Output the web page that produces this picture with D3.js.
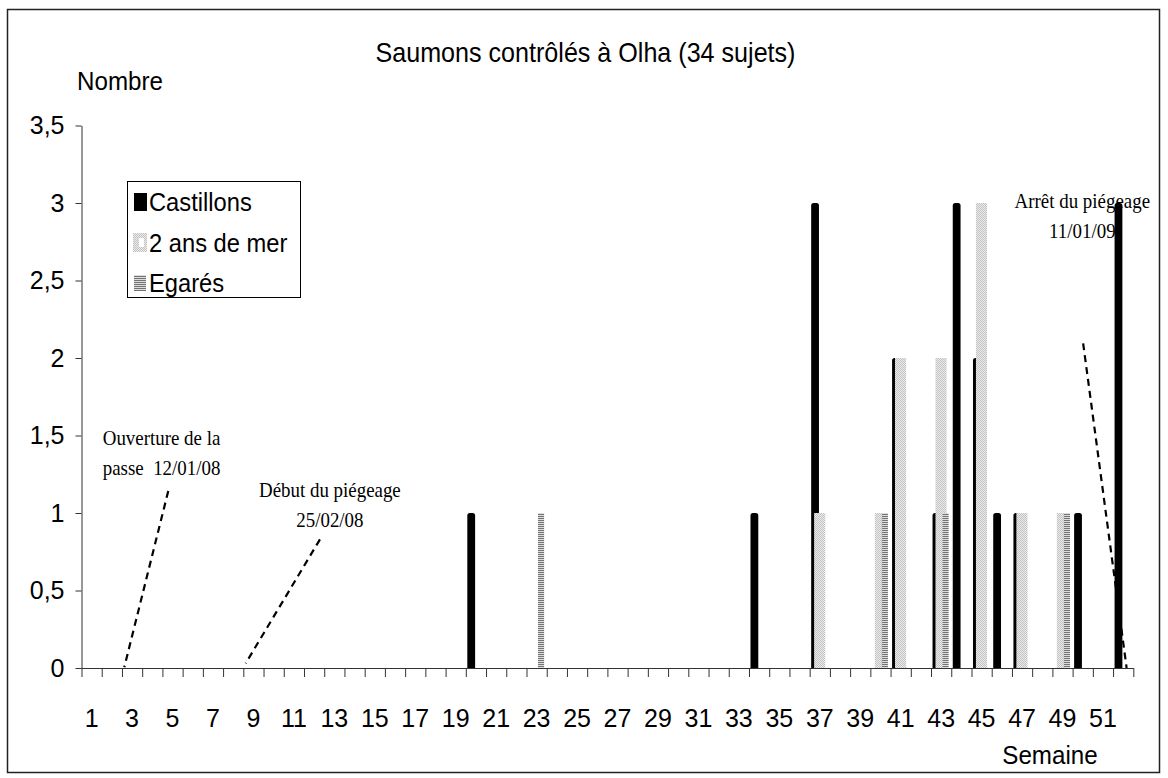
<!DOCTYPE html>
<html><head><meta charset="utf-8">
<script src="https://cdn.jsdelivr.net/npm/d3@7"></script>
<style>body{margin:0;background:#fff}svg{display:block}</style>
</head><body>
<svg id="chart" width="1168" height="778"></svg>
<script>
// ---------- data ----------
const weeks = [1,2,3,4,5,6,7,8,9,10,11,12,13,14,15,16,17,18,19,20,21,22,23,24,25,26,
  27,28,29,30,31,32,33,34,35,36,37,38,39,40,41,42,43,44,45,46,47,48,49,50,51,52];
const weekLabels = ["1","3","5","7","9","11","13","15","17","19","21","23","25","27",
  "29","31","33","35","37","39","41","43","45","47","49","51"];
const seriesNames = ["Castillons", "2 ans de mer", "Egarés"];
const castillons = [0,0,0,0,0,0,0,0,0,0, 0,0,0,0,0,0,0,0,0,1, 0,0,0,0,0,0,0,0,0,0,
  0,0,0,1,0,0,3,0,0,0, 2,0,1,3,2,1,1,0,0,1, 0,3];
const deuxAnsDeMer = [0,0,0,0,0,0,0,0,0,0, 0,0,0,0,0,0,0,0,0,0, 0,0,0,0,0,0,0,0,0,0,
  0,0,0,0,0,0,1,0,0,1, 2,0,2,0,3,0,1,0,1,0, 0,0];
const egares = [0,0,0,0,0,0,0,0,0,0, 0,0,0,0,0,0,0,0,0,0, 0,0,1,0,0,0,0,0,0,0,
  0,0,0,0,0,0,0,0,0,1, 0,0,1,0,0,0,0,0,1,0, 0,0];
const yTicks = [0, 0.5, 1, 1.5, 2, 2.5, 3, 3.5];
const yTickLabels = ["0", "0,5", "1", "1,5", "2", "2,5", "3", "3,5"];
const titleText = "Saumons contrôlés à Olha (34 sujets)";
const yAxisTitle = "Nombre";
const xAxisTitle = "Semaine";
// annotations in data units (x: weeks from axis start, y: value)
const annotationTexts = [
  {lines: ["Ouverture de la", "passe  12/01/08"], x: 1.05, y: 1.44, anchor: "start"},
  {lines: ["Début du piégeage", "25/02/08"], x: 12.28, y: 1.105, anchor: "middle"},
  {lines: ["Arrêt du piégeage", "11/01/09"], x: 49.48, y: 2.965, anchor: "middle"}
];
const annotationLines = [
  {x1: 4.29, y1: 1.142, x2: 2.116, y2: 0.005},
  {x1: 11.79, y1: 0.83, x2: 8.117, y2: 0.03},
  {x1: 49.52, y1: 2.095, x2: 51.67, y2: 0}
];

// ---------- layout ----------
const W = 1168, H = 778;
const P = {left: 81.5, right: 1133.3, top: 125.5, bottom: 668};
const SANS = "'Liberation Sans', Arial, sans-serif";
const SERIF = "'Liberation Serif', 'Times New Roman', serif";
const SX_SANS = 0.93, SX_SERIF = 0.86;

const svg = d3.select("#chart");
svg.append("rect").attr("width", W).attr("height", H).attr("fill", "#fff");

const defs = svg.append("defs");
const dots = defs.append("pattern").attr("id", "dots").attr("width", 2).attr("height", 2)
  .attr("patternUnits", "userSpaceOnUse");
dots.append("rect").attr("width", 2).attr("height", 2).attr("fill", "#ececec");
dots.append("rect").attr("width", 1).attr("height", 1).attr("fill", "#c2c2c2");
dots.append("rect").attr("x", 1).attr("y", 1).attr("width", 1).attr("height", 1).attr("fill", "#c2c2c2");
const stripes = defs.append("pattern").attr("id", "stripes").attr("width", 2).attr("height", 2)
  .attr("patternUnits", "userSpaceOnUse");
stripes.append("rect").attr("width", 2).attr("height", 2).attr("fill", "#dcdcdc");
stripes.append("rect").attr("width", 2).attr("height", 1).attr("fill", "#747474");

// outer frame
svg.append("rect").attr("x", 7.5).attr("y", 9.5).attr("width", 1152).attr("height", 763)
  .attr("fill", "none").attr("stroke", "#222").attr("stroke-width", 1.5);

function label(x, y, str, o) {
  const g = svg.append("g").attr("transform", `translate(${x},${y}) scale(${o.sx},1)`);
  return g.append("text").attr("text-anchor", o.anchor || "start")
    .attr("font-family", o.family).attr("font-size", o.size).attr("fill", "#000")
    .style("white-space", "pre").text(str);
}

// scales
const xBand = d3.scaleBand().domain(weeks).range([P.left, P.right]).paddingInner(0).paddingOuter(0);
const xLin = d3.scaleLinear().domain([0, weeks.length]).range([P.left, P.right]);
const y = d3.scaleLinear().domain([0, 3.5]).range([P.bottom, P.top]);

// titles
label(585.5, 62, titleText, {sx: SX_SANS, family: SANS, size: 27, anchor: "middle"});
label(77, 90, yAxisTitle, {sx: SX_SANS, family: SANS, size: 26});
label(1050, 764, xAxisTitle, {sx: SX_SANS, family: SANS, size: 26, anchor: "middle"});

// annotation texts
annotationTexts.forEach(a => {
  a.lines.forEach((ln, i) => {
    label(xLin(a.x), y(a.y) + i * 29.8, ln, {sx: SX_SERIF, family: SERIF, size: 22, anchor: a.anchor});
  });
});

// legend
const lg = svg.append("g");
lg.append("rect").attr("x", 127.5).attr("y", 181.5).attr("width", 173).attr("height", 116)
  .attr("fill", "#fff").attr("stroke", "#000").attr("stroke-width", 1);
lg.append("rect").attr("x", 134).attr("y", 193).attr("width", 13).attr("height", 18).attr("fill", "#000");
lg.append("rect").attr("x", 133).attr("y", 233).attr("width", 14).attr("height", 19).attr("fill", "url(#dots)");
lg.append("rect").attr("x", 139).attr("y", 238).attr("width", 5).attr("height", 9).attr("fill", "#fff");
lg.append("rect").attr("x", 134).attr("y", 275).attr("width", 12).attr("height", 16).attr("fill", "url(#stripes)");
seriesNames.forEach((n, i) => {
  label(149, 211 + i * 40.5, n, {sx: SX_SANS, family: SANS, size: 25.5});
});

// bars
const series = [
  {values: castillons, fill: "#000", from: 0.074, to: 0.46, round: true},
  {values: deuxAnsDeMer, fill: "url(#dots)", from: 0.22, to: 0.77},
  {values: egares, fill: "url(#stripes)", from: 0.57, to: 0.87}
];
const bw = xBand.bandwidth();
function topRounded(x, yTop, w, h, r) {
  r = Math.min(r, w / 2, h);
  return `M${x},${yTop + h}V${yTop + r}Q${x},${yTop} ${x + r},${yTop}H${x + w - r}Q${x + w},${yTop} ${x + w},${yTop + r}V${yTop + h}Z`;
}
series.forEach(s => {
  const data = weeks.map((w, i) => ({w, v: s.values[i]})).filter(d => d.v > 0);
  const g = svg.append("g");
  if (s.round) {
    g.selectAll("path").data(data).join("path")
      .attr("d", d => topRounded(xBand(d.w) + s.from * bw, y(d.v), (s.to - s.from) * bw, y(0) - y(d.v), 2.5))
      .attr("fill", s.fill);
  } else {
    g.selectAll("rect").data(data).join("rect")
      .attr("x", d => xBand(d.w) + s.from * bw)
      .attr("width", (s.to - s.from) * bw)
      .attr("y", d => y(d.v))
      .attr("height", d => y(0) - y(d.v))
      .attr("fill", s.fill);
  }
});

// axes
const AX = "#333";
const yAxis = svg.append("g").attr("transform", `translate(${P.left},0)`)
  .call(d3.axisLeft(y).tickValues(yTicks).tickFormat((d, i) => yTickLabels[i])
    .tickSize(6).tickPadding(11).tickSizeOuter(0));
yAxis.selectAll("path,line").attr("stroke", AX);
yAxis.selectAll("text").attr("font-family", SANS).attr("font-size", 25).attr("fill", "#000");

const xTicks = svg.append("g").attr("transform", `translate(0,${P.bottom})`)
  .call(d3.axisBottom(xLin).tickValues(d3.range(0, weeks.length + 1)).tickFormat("")
    .tickSize(9).tickSizeOuter(0));
xTicks.selectAll("path,line").attr("stroke", AX);

const xLabels = svg.append("g").attr("transform", `translate(0,${P.bottom})`)
  .call(d3.axisBottom(xBand).tickValues(weekLabels.map(Number)).tickFormat((d, i) => weekLabels[i])
    .tickSize(0).tickPadding(41));
xLabels.select(".domain").remove();
xLabels.selectAll("text").attr("font-family", SANS).attr("font-size", 25).attr("fill", "#000");

// annotation dashed lines
svg.append("g").selectAll("line").data(annotationLines).join("line")
  .attr("x1", d => xLin(d.x1)).attr("y1", d => y(d.y1))
  .attr("x2", d => xLin(d.x2)).attr("y2", d => y(d.y2))
  .attr("stroke", "#000").attr("stroke-width", 2.2).attr("stroke-dasharray", "7,5");
</script>
</body></html>
